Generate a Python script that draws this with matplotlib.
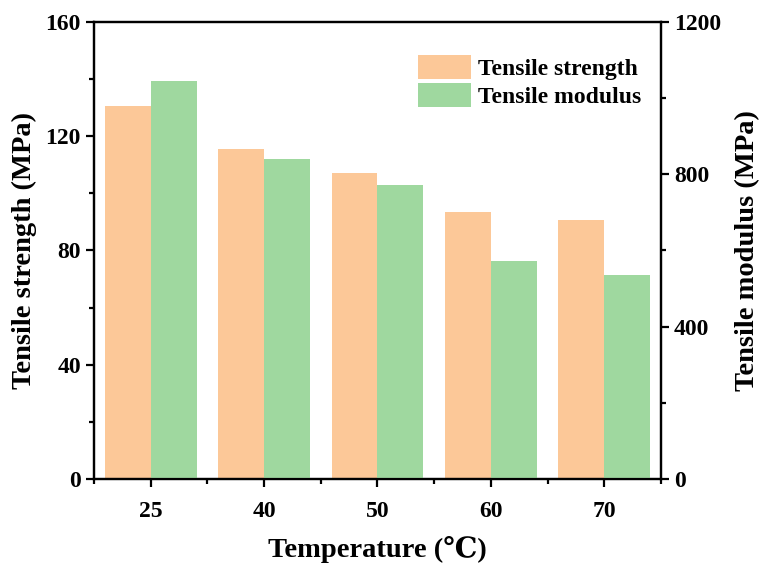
import numpy as np
import matplotlib
matplotlib.use('Agg')
import matplotlib.pyplot as plt
from matplotlib.ticker import MultipleLocator

# data
temps = ['25', '40', '50', '60', '70']
strength = [130.5, 115.5, 107, 93.5, 90.5]        # MPa, left axis
modulus = [1045, 840, 772, 572, 535]              # MPa, right axis

plt.rcParams['font.family'] = 'Liberation Serif'
plt.rcParams['font.weight'] = 'bold'

fig = plt.figure(figsize=(7.61, 5.63), dpi=100)
ax1 = fig.add_axes([0.1235, 0.1492, 0.745, 0.8118])
ax2 = ax1.twinx()

x = np.arange(len(temps))
w = 0.405
b1 = ax1.bar(x - w / 2, strength, w, color='#FCC898', label='Tensile strength')
b2 = ax2.bar(x + w / 2, modulus, w, color='#9FD89F', label='Tensile modulus')

ax1.set_xlim(-0.5, 4.5)
ax1.set_ylim(0, 160)
ax2.set_ylim(0, 1200)
ax1.set_xticks(x)
ax1.set_xticklabels(temps)
ax1.xaxis.set_minor_locator(MultipleLocator(1, offset=0.5))
ax1.yaxis.set_major_locator(MultipleLocator(40))
ax1.yaxis.set_minor_locator(MultipleLocator(20))
ax2.yaxis.set_major_locator(MultipleLocator(400))
ax2.yaxis.set_minor_locator(MultipleLocator(200))

for ax in (ax1, ax2):
    for s in ax.spines.values():
        s.set_linewidth(1.6)
    ax.tick_params(which='major', direction='out', length=6, width=1.6, labelsize=17)
    ax.tick_params(which='minor', direction='out', length=3.5, width=1.6)
ax1.tick_params(axis='x', which='both', top=False)
ax1.tick_params(axis='x', pad=10)

ax1.set_xlabel('Temperature (℃)', fontsize=20.5, fontweight='bold', labelpad=10,
               family=['Liberation Serif', 'DejaVu Serif'])
ax1.set_ylabel('Tensile strength (MPa)', fontsize=20.5, fontweight='bold', labelpad=6)
ax2.set_ylabel('Tensile modulus (MPa)', fontsize=20.5, fontweight='bold', labelpad=10)

ax1.legend([b1, b2], ['Tensile strength', 'Tensile modulus'], loc='upper right',
           bbox_to_anchor=(0.965, 0.928), frameon=False,
           prop={'weight': 'bold', 'size': 17}, borderpad=0, borderaxespad=0,
           handlelength=2.25, handleheight=1.2, handletextpad=0.3, labelspacing=0.12)

fig.savefig('out.png', dpi=100)
